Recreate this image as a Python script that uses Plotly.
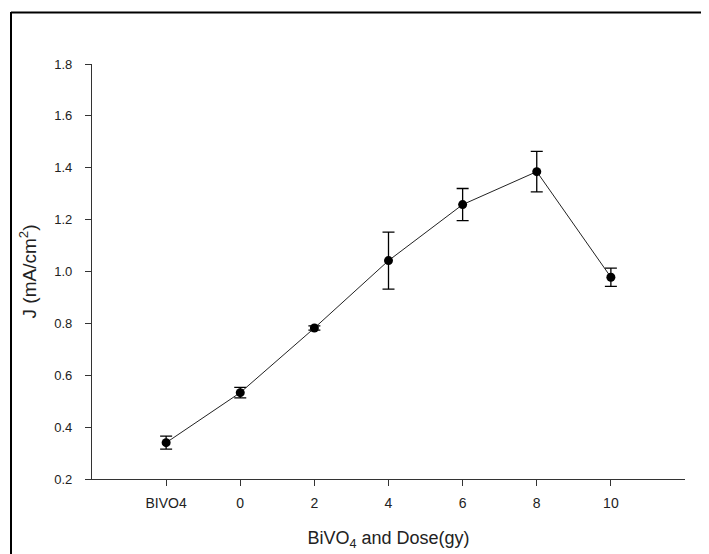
import plotly.graph_objects as go

categories = ["BIVO4", "0", "2", "4", "6", "8", "10"]
current = [0.34, 0.533, 0.782, 1.042, 1.258, 1.385, 0.978]
error = [0.025, 0.02, 0.008, 0.11, 0.062, 0.078, 0.035]

positions = list(range(len(categories)))

fig = go.Figure()
fig.add_trace(go.Scatter(
    x=positions, y=current,
    mode="lines+markers",
    line=dict(color="#222222", width=1),
    marker=dict(color="black", size=9),
    error_y=dict(type="data", array=error, visible=True, color="black", thickness=1.3, width=6),
    showlegend=False,
))

# page body has an 8px margin, so the figure is offset by 8px
OFF = 8
L, R, T, B = 92 - OFF, 24, 64 - OFF, 75
W, H = 709 - OFF, 554 - OFF
pw, ph = W - L - R, H - T - B

def px_to_paper_x(px):
    return (px - OFF - L) / pw

def py_to_paper_y(py):
    return (H - B - (py - OFF)) / ph

fig.update_layout(
    width=W, height=H,
    margin=dict(l=L, r=R, t=T, b=B),
    paper_bgcolor="white", plot_bgcolor="white",
    font=dict(family="Arial, Liberation Sans, sans-serif", color="#222222", size=13),
    xaxis=dict(
        range=[-1, 7], tickmode="array", tickvals=positions, ticktext=categories,
        tickfont=dict(size=14), automargin=False,
        showline=True, linecolor="#333333", linewidth=1.2, ticks="outside", ticklen=6,
        tickcolor="#333333", showgrid=False, zeroline=False, fixedrange=True,
        ticklabelstandoff=5,
        title=dict(text="BiVO<sub>4</sub> and Dose(gy)", font=dict(size=18), standoff=21),
    ),
    yaxis=dict(
        range=[0.2, 1.8], tickvals=[0.2, 0.4, 0.6, 0.8, 1.0, 1.2, 1.4, 1.6, 1.8],
        tickformat=".1f", tickfont=dict(size=13), automargin=False,
        showline=True, linecolor="#333333", linewidth=1.2, ticks="outside", ticklen=6,
        tickcolor="#333333", showgrid=False, zeroline=False, fixedrange=True,
        ticklabelstandoff=10,
        title=dict(text="J (mA/cm<sup>2</sup>)", font=dict(size=19), standoff=12),
    ),
    shapes=[
        dict(type="line", xref="paper", yref="paper",
             x0=px_to_paper_x(11), x1=px_to_paper_x(712),
             y0=py_to_paper_y(12.5), y1=py_to_paper_y(12.5),
             line=dict(color="black", width=2)),
        dict(type="line", xref="paper", yref="paper",
             x0=px_to_paper_x(11), x1=px_to_paper_x(11),
             y0=py_to_paper_y(12), y1=py_to_paper_y(556),
             line=dict(color="black", width=2)),
    ],
)

fig.write_html("out.html")
